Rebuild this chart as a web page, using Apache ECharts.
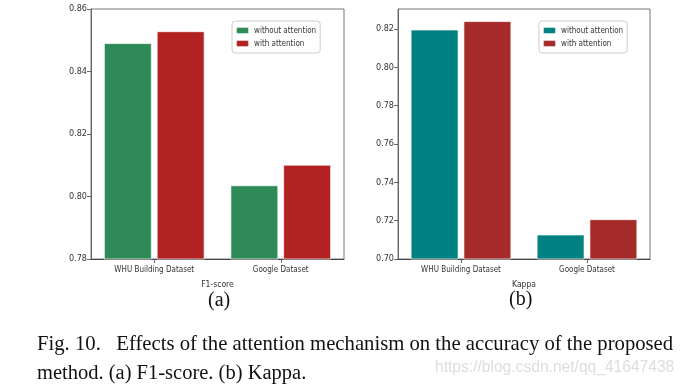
<!DOCTYPE html>
<html><head><meta charset="utf-8">
<script src="https://cdn.jsdelivr.net/npm/echarts@6/dist/echarts.min.js"></script>
<style>html,body{margin:0;padding:0;background:#fff}#c{width:686px;height:385px}</style>
</head><body><div id="c"></div>
<script>
var categories = ['WHU Building Dataset', 'Google Dataset'];
var f1Without = [0.8491, 0.8036];
var f1With = [0.8529, 0.8102];
var kappaWithout = [0.8198, 0.7128];
var kappaWith = [0.8242, 0.7208];
var f1Ticks = [0.78, 0.80, 0.82, 0.84, 0.86];
var kappaTicks = [0.70, 0.72, 0.74, 0.76, 0.78, 0.80, 0.82];
var seriesNames = ['without attention', 'with attention'];

var sans = '"Liberation Sans Narrow", "DejaVu Sans Condensed", "DejaVu Sans", sans-serif';
var serif = '"Liberation Serif", "Times New Roman", serif';
var chart = echarts.init(document.getElementById('c'), null, {renderer: 'canvas'});

function yAxis(idx, min, max, ticks) {
  return {
    type: 'value', gridIndex: idx, min: min, max: max, interval: 0.02,
    splitLine: {show: false},
    axisLine: {show: true, lineStyle: {color: '#666'}},
    axisTick: {show: true, length: 4, lineStyle: {color: '#666'}, customValues: ticks},
    axisLabel: {show: true, fontSize: 9, color: '#333', fontFamily: sans, margin: 4, customValues: ticks,
      formatter: function (v) { return v.toFixed(2); }}
  };
}
function xAxis(idx, name) {
  return {
    type: 'category', gridIndex: idx, data: categories,
    axisLine: {show: true, lineStyle: {color: '#444'}},
    axisTick: {show: true, length: 4, alignWithLabel: true, lineStyle: {color: '#666'}},
    axisLabel: {fontSize: 8, color: '#333', fontFamily: sans, margin: 7},
    name: name, nameLocation: 'middle', nameGap: 21,
    nameTextStyle: {fontSize: 8.5, color: '#333', fontFamily: sans}
  };
}
function bar(name, xi, data, color) {
  return {
    type: 'bar', name: name, xAxisIndex: xi, yAxisIndex: xi, data: data,
    barWidth: 48, barGap: '10%',
    itemStyle: {color: color, borderColor: 'rgba(255,255,255,0.7)', borderWidth: 1},
    emphasis: {disabled: true}
  };
}
function legend(left, names) {
  return {
    left: left, top: 21, orient: 'vertical', data: names,
    itemWidth: 13, itemHeight: 7, itemGap: 4,
    padding: [5, 4, 5, 3],
    borderColor: '#ccc', borderWidth: 1, borderRadius: 3,
    textStyle: {fontSize: 8, color: '#333', fontFamily: sans},
    formatter: function (n) { return n.trim(); },
    selectedMode: false
  };
}

chart.setOption({
  animation: false,
  grid: [
    {left: 91, top: 9, width: 253, height: 250, show: true, borderColor: '#777', borderWidth: 1},
    {left: 398, top: 9, width: 252, height: 250, show: true, borderColor: '#777', borderWidth: 1}
  ],
  xAxis: [xAxis(0, 'F1-score'), xAxis(1, 'Kappa')],
  yAxis: [yAxis(0, 0.78, 0.86, f1Ticks), yAxis(1, 0.70, 0.8305, kappaTicks)],
  legend: [
    legend(232, [seriesNames[0], seriesNames[1]]),
    legend(539, [seriesNames[0] + ' ', seriesNames[1] + ' '])
  ],
  series: [
    bar(seriesNames[0], 0, f1Without, '#2E8B57'),
    bar(seriesNames[1], 0, f1With, '#B22222'),
    bar(seriesNames[0] + ' ', 1, kappaWithout, '#008080'),
    bar(seriesNames[1] + ' ', 1, kappaWith, '#A52A2A')
  ],
  graphic: [
    {type: 'text', left: 208, top: 291, style: {text: '(a)', font: '20px ' + serif, fill: '#111'}},
    {type: 'text', left: 509, top: 290, style: {text: '(b)', font: '20px ' + serif, fill: '#111'}},
    {type: 'text', left: 37, top: 334, style: {text: 'Fig. 10.   Effects of the attention mechanism on the accuracy of the proposed', font: '20.7px ' + serif, fill: '#111'}},
    {type: 'text', left: 37, top: 363, style: {text: 'method. (a) F1-score. (b) Kappa.', font: '20.5px ' + serif, fill: '#111'}},
    {type: 'text', left: 435, top: 360, style: {text: 'https://blog.csdn.net/qq_41647438', font: '15.6px "Liberation Sans Narrow", "Liberation Sans", sans-serif', fill: '#ddd'}}
  ]
});
</script></body></html>
